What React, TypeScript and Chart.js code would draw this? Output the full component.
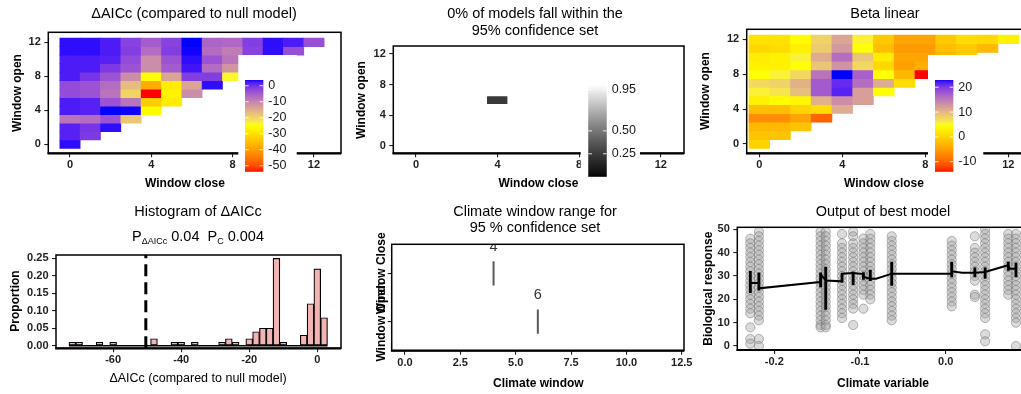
import React, { useEffect, useRef } from "react";
import { Chart, registerables } from "chart.js";

Chart.register(...registerables);

// ---------------- data ----------------
const HEAT_TICKS = [0, 4, 8, 12];

// rows indexed by window open (0..12), entries indexed by window close (0..open)
const DELTA_AICC_BY_OPEN: number[][] = [
  [3.0],
  [1.5, -1.0],
  [1.5, -0.5, 3.0],
  [-8.0, -7.0, -4.0, -18.0],
  [2.0, 1.5, 3.6, 3.5, -25.5],
  [2.0, 1.5, -4.0, -8.0, -33.0, -28.0],
  [-3.0, -4.0, -8.0, -20.0, -53.7, -27.0, -11.0],
  [-3.0, -4.0, -7.0, -17.0, -38.0, -28.0, -14.0, 3.0],
  [2.0, -0.5, -4.0, -11.0, -25.0, -14.0, -1.5, -1.5, -24.0],
  [2.0, 2.0, -1.0, -4.0, -11.0, -5.0, 2.5, -7.0, -12.0, -3.0],
  [2.0, 2.0, 1.5, -3.0, -11.0, -4.0, 3.0, -4.0, -8.0, -2.0, 0.0],
  [3.0, 3.0, 2.0, -1.5, -7.0, -1.5, 3.5, -7.0, -9.0, -2.0, 3.0, -3.5],
  [3.0, 3.0, 2.0, -2.0, -5.0, -2.0, 3.6, -6.0, -6.5, -1.5, 3.0, 2.0, -3.5],
];

const BETA_BY_OPEN: number[][] = [
  [0.0],
  [-1.5, -1.5],
  [-2.5, -2.5, -1.5],
  [-6.5, -6.5, -4.5, -10.0],
  [-2.0, -2.0, 0.0, 1.0, 11.0],
  [3.0, 4.0, 3.5, 10.5, 13.5, 12.0],
  [5.5, 6.5, 9.5, 17.5, 21.5, 12.0, 4.5],
  [7.5, 8.0, 10.5, 17.5, 21.0, 16.0, 11.0, 1.0],
  [4.5, 5.5, 7.5, 15.5, 22.9, 17.0, 4.5, -2.5, -14.0],
  [3.0, 3.0, 4.5, 9.0, 13.0, 7.5, 0.5, -5.0, -3.5, -1.0],
  [2.5, 3.0, 5.5, 11.0, 16.0, 9.0, 2.5, -4.5, -4.5, -2.0, 0.0],
  [0.5, 1.0, 3.0, 8.5, 12.5, 4.5, -2.0, -5.5, -5.5, -2.0, -1.0, -2.5],
  [1.5, 1.5, 4.0, 8.0, 11.5, 5.5, -1.0, -4.5, -4.5, -1.0, 1.0, 0.5, 3.0],
];

const CONF_BY_OPEN: number[][] = [
  [1],
  [1, 1],
  [1, 1, 1],
  [1, 1, 1, 1],
  [1, 1, 1, 1, 1],
  [1, 1, 1, 1, 1, 1],
  [1, 1, 1, 1, 0.24, 1, 1],
  [1, 1, 1, 1, 1, 1, 1, 1],
  [1, 1, 1, 1, 1, 1, 1, 1, 1],
  [1, 1, 1, 1, 1, 1, 1, 1, 1, 1],
  [1, 1, 1, 1, 1, 1, 1, 1, 1, 1, 1],
  [1, 1, 1, 1, 1, 1, 1, 1, 1, 1, 1, 1],
  [1, 1, 1, 1, 1, 1, 1, 1, 1, 1, 1, 1, 1],
];
const CONF_LIMITS = [0, 1];

const DELTA_LEGEND_TICKS = [0, -10, -20, -30, -40, -50];
const BETA_LEGEND_TICKS = [20, 10, 0, -10];
const CONF_LEGEND_TICKS = [0.95, 0.5, 0.25];

const HIST_BIN_CENTERS = [
  -72, -70, -68, -66, -64, -62, -60, -58, -56, -54, -52, -50, -48, -46, -44, -42, -40, -38, -36,
  -34, -32, -30, -28, -26, -24, -22, -20, -18, -16, -14, -12, -10, -8, -6, -4, -2, 0, 2,
];
const HIST_PROPORTION = [
  0.01, 0.01, 0, 0, 0.01, 0, 0.01, 0, 0, 0, 0, 0, 0.02, 0, 0, 0.01, 0.01, 0, 0.01,
  0, 0, 0, 0.01, 0.02, 0.01, 0, 0.02, 0.04, 0.05, 0.05, 0.25, 0.01, 0, 0, 0.03, 0.12, 0.22, 0.08,
];
const HIST_CUTOFF = -50.4;
const HIST_X_TICKS = [-60, -40, -20, 0];
const HIST_Y_TICKS = [0, 0.05, 0.1, 0.15, 0.2, 0.25];
const P_DELTA_AICC = "0.04";
const P_C = "0.004";

const WINDOW_LABELS = ["Window Open", "Window Close"];
const WINDOW_MEDIANS = [6, 4];
const CLIMATE_WINDOW_TICKS = [0, 2.5, 5, 7.5, 10, 12.5];

const CLIMATE_VALUES = [
  -0.228, -0.218, -0.146, -0.14, -0.121, -0.108, -0.096, -0.088, -0.063, 0.007, 0.034, 0.046, 0.073, 0.082,
];
const RESPONSE_BY_CLIMATE: number[][] = [
  [46, 44, 42, 40, 38, 36, 34, 32, 30, 28, 26, 24, 22, 20, 18, 16, 14, 8, 3, 1],
  [49, 47, 45, 43, 41, 39, 37, 35, 33, 31, 29, 27, 25, 23, 21, 19, 17, 15, 13, 11, 3, 0],
  [49, 47, 45, 43, 41, 39, 37, 35, 33, 31, 29, 27, 25, 23, 21, 19, 17, 15, 13, 11, 9, 8],
  [49, 47, 45, 43, 41, 39, 37, 35, 33, 31, 29, 27, 25, 23, 21, 19, 17, 15, 13, 11, 9, 8],
  [48, 44, 42, 40, 38, 36, 34, 32, 30, 28, 26, 24, 22, 20, 18, 16, 14, 12],
  [49, 47, 44, 42, 40, 38, 36, 34, 32, 30, 28, 26, 24, 22, 20, 18, 16, 9],
  [46, 44, 42, 40, 38, 36, 34, 32, 30, 28, 26, 24, 22, 16],
  [48, 46, 44, 42, 40, 38, 36, 34, 32, 30, 28, 26, 24, 22, 20],
  [47, 45, 43, 41, 39, 37, 35, 33, 31, 29, 27, 25, 23, 21, 19, 17, 15, 13, 11],
  [45, 43, 41, 39, 37, 35, 33, 31, 29, 27, 25, 23, 21, 19, 17],
  [47, 42, 40, 38, 36, 34, 32, 30, 28, 22, 21],
  [50, 48, 46, 44, 42, 40, 38, 36, 34, 32, 30, 28, 26, 24, 22, 20, 18, 16, 14, 12, 5, 2],
  [48, 46, 44, 42, 40, 38, 36, 34, 32, 30, 28, 26, 24, 22],
  [48, 46, 44, 42, 40, 38, 36, 34, 32, 30, 28, 26, 24, 22, 20, 18, 16, 14, 12, 10, 0],
];
const FIT_X = [
  -0.2284, -0.2179, -0.2179, -0.1467, -0.1443, -0.1397, -0.121, -0.121, -0.1082, -0.0965, -0.0965,
  -0.0883, -0.0813, -0.0627, 0.0074, 0.0074, 0.019, 0.0342, 0.0459, 0.0727, 0.075, 0.0832,
];
const FIT_Y = [
  27.0, 27.0, 24.7, 27.4, 30.0, 28.1, 27.7, 31.0, 31.3, 30.8, 29.7,
  28.8, 28.8, 31.0, 31.0, 32.0, 31.4, 31.4, 31.7, 34.6, 33.1, 33.1,
];
const ERR_LO = [22.8, 23.9, 25.3, 15.7, 27.4, 26.3, 28.5, 28.0, 26.0, 29.6, 29.6, 29.0, 32.4, 29.6];
const ERR_HI = [32.0, 31.4, 31.4, 33.8, 31.0, 31.7, 31.5, 32.5, 36.0, 36.0, 33.5, 33.5, 36.0, 35.5];
const BEST_X_TICKS = [-0.2, -0.1, 0];
const BEST_Y_TICKS = [0, 10, 20, 30, 40, 50];

// ---------------- styling / layout ----------------
const FONT = "'Liberation Sans', Arial, Helvetica, sans-serif";
const TICK_FONT = { family: FONT, size: 11, weight: "bold" as const };
const TICK_COLOR = "#1f1f1f";
const CW = 1060;
const CH = 394;
const YW = 40;
const XH = 30;
const BOX_HALF = 0.25;
const LABEL_LIFT = 0.55;

Chart.defaults.font.family = FONT;

// ---------------- colour (CIELAB ramps like ggplot) ----------------
const WX = 0.95047;
const WZ = 1.08883;
function lin(c: number) {
  c /= 255;
  return c <= 0.04045 ? c / 12.92 : Math.pow((c + 0.055) / 1.055, 2.4);
}
function unlin(c: number) {
  const v = c <= 0.0031308 ? 12.92 * c : 1.055 * Math.pow(Math.max(c, 0), 1 / 2.4) - 0.055;
  return Math.round(Math.min(1, Math.max(0, v)) * 255);
}
function fLab(t: number) {
  return t > 0.008856 ? Math.cbrt(t) : 7.787 * t + 16 / 116;
}
function fInv(t: number) {
  const t3 = t * t * t;
  return t3 > 0.008856 ? t3 : (t - 16 / 116) / 7.787;
}
function hexToLab(hex: string) {
  const n = parseInt(hex.slice(1), 16);
  const r = lin((n >> 16) & 255);
  const g = lin((n >> 8) & 255);
  const b = lin(n & 255);
  const X = 0.4124564 * r + 0.3575761 * g + 0.1804375 * b;
  const Y = 0.2126729 * r + 0.7151522 * g + 0.072175 * b;
  const Z = 0.0193339 * r + 0.119192 * g + 0.9503041 * b;
  const fx = fLab(X / WX);
  const fy = fLab(Y);
  const fz = fLab(Z / WZ);
  return [116 * fy - 16, 500 * (fx - fy), 200 * (fy - fz)];
}
function labToCss(lab: number[]) {
  const [L, a, b] = lab;
  const fy = (L + 16) / 116;
  const fx = fy + a / 500;
  const fz = fy - b / 200;
  const X = WX * fInv(fx);
  const Y = fInv(fy);
  const Z = WZ * fInv(fz);
  const r = 3.2404542 * X - 1.5371385 * Y - 0.4985314 * Z;
  const g = -0.969266 * X + 1.8760108 * Y + 0.041556 * Z;
  const bl = 0.0556434 * X - 0.2040259 * Y + 1.0572252 * Z;
  return `rgb(${unlin(r)},${unlin(g)},${unlin(bl)})`;
}
function labRamp(hexes: string[]) {
  const labs = hexes.map(hexToLab);
  return (t: number) => {
    const c = Math.min(1, Math.max(0, t)) * (labs.length - 1);
    const i = Math.min(labs.length - 2, Math.floor(c));
    const f = c - i;
    return labToCss([0, 1, 2].map((k) => labs[i][k] + (labs[i + 1][k] - labs[i][k]) * f));
  };
}
const HEAT_RAMP = labRamp(["#FF0000", "#FFFF00", "#0000FF"]);
const GREY_RAMP = labRamp(["#000000", "#FFFFFF"]);

function limitsOf(rows: number[][]) {
  const all = rows.flat();
  return [Math.min(...all), Math.max(...all)];
}

// ---------------- drawing helpers ----------------
type Frame = { l: number; t: number; r: number; b: number };

function drawText(
  ctx: CanvasRenderingContext2D,
  s: string,
  x: number,
  y: number,
  size: number,
  weight = "normal",
  rotate = false,
  align: CanvasTextAlign = "center",
  color = "#000"
) {
  ctx.save();
  ctx.font = `${weight} ${size}px ${FONT}`;
  ctx.fillStyle = color;
  ctx.textAlign = align;
  ctx.textBaseline = "middle";
  ctx.translate(x, y);
  if (rotate) ctx.rotate(-Math.PI / 2);
  ctx.fillText(s, 0, 0);
  ctx.restore();
}

function drawFrame(chart: any) {
  const { ctx, chartArea: a } = chart;
  ctx.save();
  ctx.strokeStyle = "#000";
  ctx.lineWidth = 1.5;
  ctx.strokeRect(a.left, a.top, a.right - a.left, a.bottom - a.top);
  ctx.lineWidth = 2.2;
  ctx.beginPath();
  ctx.moveTo(a.left - 0.75, a.bottom);
  ctx.lineTo(a.right, a.bottom);
  ctx.stroke();
  ctx.restore();
}

function drawColorbar(
  ctx: CanvasRenderingContext2D,
  box: Frame,
  bar: Frame,
  limits: number[],
  ramp: (t: number) => string,
  ticks: number[],
  fmt: (v: number) => string
) {
  ctx.save();
  ctx.fillStyle = "#fff";
  ctx.fillRect(box.l, box.t, box.r - box.l, box.b - box.t);
  const h = bar.b - bar.t;
  for (let yy = bar.t; yy < bar.b; yy += 1) {
    const t = 1 - (yy + 0.5 - bar.t) / h;
    ctx.fillStyle = ramp(t);
    ctx.fillRect(bar.l, yy, bar.r - bar.l, Math.min(1.3, bar.b - yy));
  }
  const w = bar.r - bar.l;
  ticks.forEach((v) => {
    const y = bar.b - ((v - limits[0]) / (limits[1] - limits[0])) * h;
    ctx.strokeStyle = "rgba(255,255,255,0.85)";
    ctx.lineWidth = 1;
    ctx.beginPath();
    ctx.moveTo(bar.l, y);
    ctx.lineTo(bar.l + w / 5, y);
    ctx.moveTo(bar.r - w / 5, y);
    ctx.lineTo(bar.r, y);
    ctx.stroke();
    drawText(ctx, fmt(v), bar.r + 5, y, 12.5, "normal", false, "left", "#1a1a1a");
  });
  ctx.restore();
}

function scaleOpts(min: number, max: number, ticks: number[], fmt: (v: number) => string, isX: boolean, showLabels = true) {
  return {
    type: "linear",
    min,
    max,
    bounds: "data",
    offset: false,
    afterBuildTicks: (s: any) => {
      s.ticks = ticks.map((v) => ({ value: v }));
    },
    afterFit: (s: any) => {
      if (isX) s.height = XH;
      else s.width = YW;
    },
    grid: {
      display: true,
      drawOnChartArea: false,
      drawTicks: true,
      tickLength: 4,
      color: "#222",
      lineWidth: 1.1,
      offset: false,
    },
    border: { display: false },
    ticks: {
      display: showLabels,
      autoSkip: false,
      maxRotation: 0,
      minRotation: 0,
      padding: isX ? 1.5 : 3.5,
      font: TICK_FONT,
      color: TICK_COLOR,
      callback: (v: any) => fmt(Number(v)),
    },
  };
}

function baseOptions(frame: Frame, x: any, y: any) {
  return {
    responsive: false,
    animation: false,
    events: [],
    layout: {
      padding: { left: frame.l - YW, top: frame.t, right: CW - frame.r, bottom: CH - frame.b - XH },
    },
    plugins: { legend: { display: false }, tooltip: { enabled: false }, title: { display: false } },
    scales: { x, y },
  };
}

function heatConfig(
  rows: number[][],
  limits: number[],
  ramp: (t: number) => string,
  frame: Frame,
  xr: number[],
  yr: number[],
  decorate: (chart: any) => void
) {
  const cells: any[] = [];
  const colors: string[] = [];
  rows.forEach((row, open) =>
    row.forEach((v, close) => {
      cells.push({ x: close, y: [open - 0.5, open + 0.5] });
      colors.push(ramp((v - limits[0]) / (limits[1] - limits[0])));
    })
  );
  return {
    type: "bar",
    data: {
      datasets: [
        {
          data: cells,
          backgroundColor: colors,
          borderWidth: 0,
          barPercentage: 1,
          categoryPercentage: 1,
          grouped: false,
        },
      ],
    },
    options: baseOptions(
      frame,
      scaleOpts(xr[0], xr[1], HEAT_TICKS, (v) => String(v), true),
      scaleOpts(yr[0], yr[1], HEAT_TICKS, (v) => String(v), false)
    ),
    plugins: [{ id: "decor", afterDraw: decorate }],
  };
}

// ---------------- panels ----------------
function panelDelta() {
  const limits = limitsOf(DELTA_AICC_BY_OPEN);
  return heatConfig(
    DELTA_AICC_BY_OPEN,
    limits,
    HEAT_RAMP,
    { l: 48.3, t: 32.3, r: 341, b: 153.3 },
    [-1.067, 13.33],
    [-1.06, 13.18],
    (chart) => {
      const ctx = chart.ctx;
      drawFrame(chart);
      drawColorbar(ctx, { l: 238.3, t: 55, r: 296.7, b: 178 }, { l: 245, t: 80, r: 263.3, b: 171.7 }, limits, HEAT_RAMP, DELTA_LEGEND_TICKS, (v) => String(v));
      drawText(ctx, "\u0394AICc (compared to null model)", 194, 13.5, 14.5);
      drawText(ctx, "Window close", 185, 184, 12, "bold");
      drawText(ctx, "Window open", 18, 93, 12, "bold", true);
    }
  );
}

function panelConf() {
  return heatConfig(
    CONF_BY_OPEN,
    CONF_LIMITS,
    GREY_RAMP,
    { l: 393.3, t: 46, r: 684, b: 153.3 },
    [-1.11, 13.14],
    [-0.995, 13.05],
    (chart) => {
      const ctx = chart.ctx;
      drawFrame(chart);
      drawColorbar(ctx, { l: 580.7, t: 60, r: 640, b: 182 }, { l: 588.3, t: 85, r: 606.7, b: 176.7 }, CONF_LIMITS, GREY_RAMP, CONF_LEGEND_TICKS, (v) => v.toFixed(2));
      drawText(ctx, "0% of models fall within the", 535, 14, 14.5);
      drawText(ctx, "95% confidence set", 535, 30.5, 14.5);
      drawText(ctx, "Window close", 538.5, 184, 12, "bold");
      drawText(ctx, "Window open", 361.7, 100, 12, "bold", true);
    }
  );
}

function panelBeta() {
  const limits = limitsOf(BETA_BY_OPEN);
  return heatConfig(
    BETA_BY_OPEN,
    limits,
    HEAT_RAMP,
    { l: 746.7, t: 29.3, r: 1032, b: 153.3 },
    [-0.607, 13.14],
    [-1.066, 13.15],
    (chart) => {
      const ctx = chart.ctx;
      drawFrame(chart);
      drawColorbar(ctx, { l: 928, t: 55, r: 983.3, b: 178 }, { l: 935, t: 80, r: 953.3, b: 171.7 }, limits, HEAT_RAMP, BETA_LEGEND_TICKS, (v) => String(v));
      drawText(ctx, "Beta linear", 885, 14, 14.5);
      drawText(ctx, "Window close", 884, 184, 12, "bold");
      drawText(ctx, "Window open", 706, 91, 12, "bold", true);
    }
  );
}

function panelHist() {
  const frame = { l: 56, t: 255, r: 341, b: 348.3 };
  const xr = [-76.8, 6.97];
  const yr = [-0.0074, 0.2594];
  const half = (HIST_BIN_CENTERS[1] - HIST_BIN_CENTERS[0]) / 2;
  return {
    type: "bar",
    data: {
      datasets: [
        {
          type: "scatter",
          data: [
            { x: HIST_CUTOFF, y: yr[0] },
            { x: HIST_CUTOFF, y: yr[1] },
          ],
          showLine: true,
          borderColor: "#000",
          borderWidth: 3,
          borderDash: [12, 6],
          pointRadius: 0,
          order: 0,
        },
        {
          type: "bar",
          data: HIST_BIN_CENTERS.map((c, i) => ({ x: c, y: HIST_PROPORTION[i] })),
          backgroundColor: "#f2b3b3",
          borderColor: "#000",
          borderWidth: 1.2,
          borderSkipped: false,
          barPercentage: 1,
          categoryPercentage: 1,
          grouped: false,
          order: 1,
        },
        {
          type: "scatter",
          data: [
            { x: HIST_BIN_CENTERS[0] - half, y: 0 },
            { x: HIST_BIN_CENTERS[HIST_BIN_CENTERS.length - 1] + half, y: 0 },
          ],
          showLine: true,
          borderColor: "#000",
          borderWidth: 1.6,
          pointRadius: 0,
          order: 2,
        },
      ],
    },
    options: baseOptions(
      frame,
      scaleOpts(xr[0], xr[1], HIST_X_TICKS, (v) => String(v), true),
      scaleOpts(yr[0], yr[1], HIST_Y_TICKS, (v) => v.toFixed(2), false)
    ),
    plugins: [
      {
        id: "decor",
        afterDraw: (chart: any) => {
          const ctx = chart.ctx;
          drawFrame(chart);
          drawText(ctx, "Histogram of \u0394AICc", 198, 212, 14.5);
          const parts = [
            { s: "P", size: 14.5, dy: 0 },
            { s: "\u0394AICc", size: 9, dy: 4.5 },
            { s: " " + P_DELTA_AICC + "  P", size: 14.5, dy: 0 },
            { s: "C", size: 9, dy: 4.5 },
            { s: " " + P_C, size: 14.5, dy: 0 },
          ];
          ctx.save();
          let total = 0;
          const widths = parts.map((p) => {
            ctx.font = `normal ${p.size}px ${FONT}`;
            const w = ctx.measureText(p.s).width;
            total += w;
            return w;
          });
          let x = 198 - total / 2;
          parts.forEach((p, i) => {
            drawText(ctx, p.s, x, 237 + p.dy, p.size, "normal", false, "left");
            x += widths[i];
          });
          ctx.restore();
          drawText(ctx, "\u0394AICc (compared to null model)", 198, 379, 12.5);
          drawText(ctx, "Proportion", 16, 301, 12, "bold", true);
        },
      },
    ],
  };
}

function panelWindow() {
  const frame = { l: 391.7, t: 244.3, r: 684, b: 350.7 };
  return {
    type: "scatter",
    data: {
      datasets: WINDOW_MEDIANS.map((m, i) => ({
        data: [
          { x: m, y: i + 1 - BOX_HALF },
          { x: m, y: i + 1 + BOX_HALF },
        ],
        showLine: true,
        borderColor: "#595959",
        borderWidth: 2,
        pointRadius: 0,
      })),
    },
    options: baseOptions(
      frame,
      scaleOpts(-0.6, 12.6, CLIMATE_WINDOW_TICKS, (v) => v.toFixed(1), true),
      scaleOpts(0.4, 2.6, [1, 2], (v) => String(v), false, false)
    ),
    plugins: [
      {
        id: "decor",
        afterDraw: (chart: any) => {
          const ctx = chart.ctx;
          const a = chart.chartArea;
          const xs = chart.scales.x;
          const ys = chart.scales.y;
          ctx.save();
          ctx.beginPath();
          ctx.rect(a.left, a.top, a.right - a.left, a.bottom - a.top);
          ctx.clip();
          WINDOW_MEDIANS.forEach((m, i) => {
            drawText(ctx, String(m), xs.getPixelForValue(m), ys.getPixelForValue(i + 1 + LABEL_LIFT), 14.5, "normal", false, "center", "#333");
          });
          ctx.restore();
          drawFrame(chart);
          WINDOW_LABELS.forEach((lab, i) => {
            drawText(ctx, lab, a.left - 10, ys.getPixelForValue(i + 1), 12, "bold", true);
          });
          drawText(ctx, "Climate window range for", 535, 211.7, 14.5);
          drawText(ctx, "95 % confidence set", 535, 228.3, 14.5);
          drawText(ctx, "Climate window", 538.3, 383.3, 12, "bold");
        },
      },
    ],
  };
}

function panelBest() {
  const frame = { l: 737.3, t: 227.3, r: 1041, b: 350 };
  const points: any[] = [];
  CLIMATE_VALUES.forEach((x, i) => RESPONSE_BY_CLIMATE[i].forEach((y) => points.push({ x, y })));
  return {
    type: "scatter",
    data: {
      datasets: [
        {
          type: "scatter",
          data: FIT_X.map((x, i) => ({ x, y: FIT_Y[i] })),
          showLine: true,
          borderColor: "#000",
          borderWidth: 2,
          pointRadius: 0,
          order: 0,
        },
        {
          type: "bar",
          data: CLIMATE_VALUES.map((x, i) => ({ x, y: [ERR_LO[i], ERR_HI[i]] })),
          backgroundColor: "#000",
          borderWidth: 0,
          barThickness: 2.2,
          grouped: false,
          order: 1,
        },
        {
          type: "scatter",
          data: points,
          pointRadius: 4.6,
          backgroundColor: "rgba(160,160,160,0.38)",
          borderColor: "rgba(100,100,100,0.45)",
          borderWidth: 1,
          order: 2,
        },
      ],
    },
    options: baseOptions(
      frame,
      scaleOpts(-0.2432, 0.1112, BEST_X_TICKS, (v) => v.toFixed(1), true),
      scaleOpts(-1.71, 50.86, BEST_Y_TICKS, (v) => String(v), false)
    ),
    plugins: [
      {
        id: "decor",
        afterDraw: (chart: any) => {
          const ctx = chart.ctx;
          drawFrame(chart);
          drawText(ctx, "Output of best model", 883, 211.7, 14.5);
          drawText(ctx, "Climate variable", 883, 383.3, 12, "bold");
          drawText(ctx, "Biological response", 708.3, 288.7, 12, "bold", true);
        },
      },
    ],
  };
}

const PANELS = [panelDelta, panelConf, panelBeta, panelHist, panelWindow, panelBest];

export default function App() {
  const refs = [useRef<HTMLCanvasElement>(null), useRef<HTMLCanvasElement>(null), useRef<HTMLCanvasElement>(null), useRef<HTMLCanvasElement>(null), useRef<HTMLCanvasElement>(null), useRef<HTMLCanvasElement>(null)];
  useEffect(() => {
    const charts = PANELS.map((make, i) => new Chart(refs[i].current as HTMLCanvasElement, make() as any));
    return () => charts.forEach((c) => c.destroy());
  }, []);
  return (
    <div style={{ position: "absolute", left: 0, top: 0, width: 1021, height: 394, overflow: "hidden", background: "#fff" }}>
      {refs.map((r, i) => (
        <canvas key={i} ref={r} width={CW} height={CH} style={{ position: "absolute", left: 0, top: 0, width: CW, height: CH }} />
      ))}
    </div>
  );
}
